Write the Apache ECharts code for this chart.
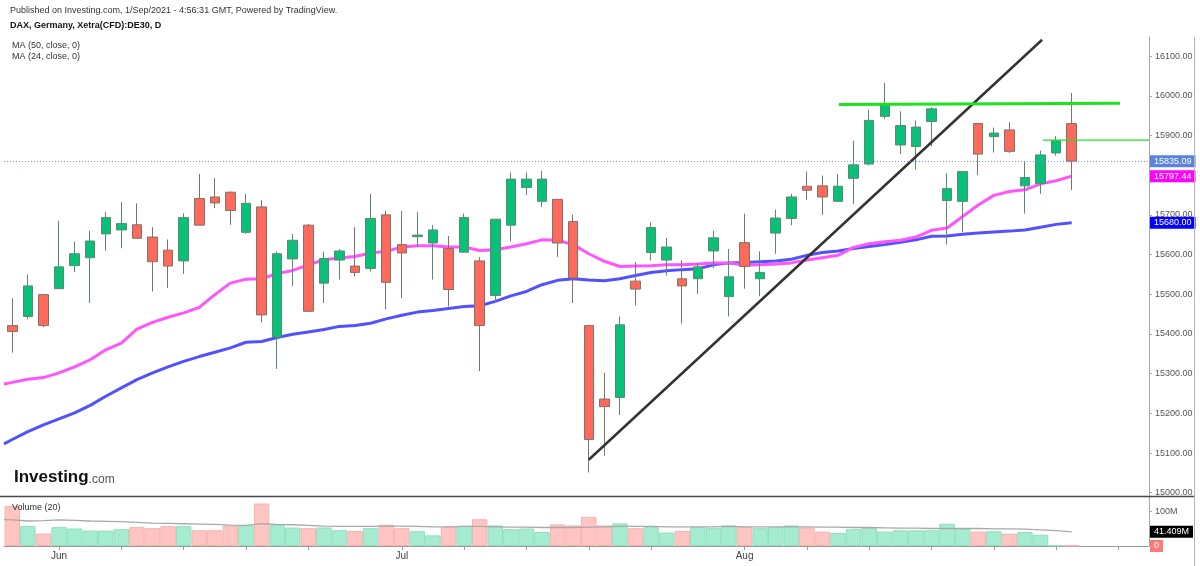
<!DOCTYPE html>
<html><head><meta charset="utf-8">
<script src="https://cdn.jsdelivr.net/npm/echarts@6/dist/echarts.min.js"></script>
<style>html,body{margin:0;padding:0;background:#fff}#c{width:1200px;height:566px}</style>
</head><body><div id="c"></div>
<script>
// ---- data ----
const dates = ['2021-05-27','2021-05-28','2021-05-31',
 '2021-06-01','2021-06-02','2021-06-03','2021-06-04','2021-06-07','2021-06-08','2021-06-09','2021-06-10','2021-06-11',
 '2021-06-14','2021-06-15','2021-06-16','2021-06-17','2021-06-18','2021-06-21','2021-06-22','2021-06-23','2021-06-24','2021-06-25',
 '2021-06-28','2021-06-29','2021-06-30',
 '2021-07-01','2021-07-02','2021-07-05','2021-07-06','2021-07-07','2021-07-08','2021-07-09','2021-07-12','2021-07-13','2021-07-14',
 '2021-07-15','2021-07-16','2021-07-19','2021-07-20','2021-07-21','2021-07-22','2021-07-23','2021-07-26','2021-07-27','2021-07-28',
 '2021-07-29','2021-07-30',
 '2021-08-02','2021-08-03','2021-08-04','2021-08-05','2021-08-06','2021-08-09','2021-08-10','2021-08-11','2021-08-12','2021-08-13',
 '2021-08-16','2021-08-17','2021-08-18','2021-08-19','2021-08-20','2021-08-23','2021-08-24','2021-08-25','2021-08-26','2021-08-27',
 '2021-08-30','2021-08-31'];
const openP = [15421,15444,15499,15514,15572,15592,15652,15662,15675,15644,
 15611,15584,15741,15745,15757,15656,15720,15392,15589,15674,
 15528,15586,15571,15565,15700,15625,15645,15629,15615,15606,
 15584,15497,15674,15769,15734,15739,15683,15421,15236,15240,
 15533,15605,15586,15539,15539,15609,15494,15630,15539,15654,
 15691,15772,15773,15734,15792,15828,15948,15876,15872,15935,
 15736,15734,15930,15897,15914,15773,15779,15856,15930];
const closeP = [15406,15521,15421,15569,15602,15634,15693,15678,15641,15582,
 15571,15693,15674,15730,15711,15729,15448,15602,15636,15457,
 15590,15609,15555,15691,15530,15604,15649,15662,15512,15693,
 15421,15689,15790,15790,15790,15629,15541,15134,15217,15423,
 15513,15668,15619,15521,15569,15642,15544,15570,15555,15692,
 15745,15762,15745,15772,15826,15938,15977,15925,15921,15967,
 15766,15809,15853,15906,15860,15794,15851,15887,15835.09];
const lowP = [15353,15437,15417,15513,15556,15478,15610,15616,15639,15507,
 15516,15551,15674,15717,15675,15652,15429,15312,15520,15456,
 15478,15537,15545,15557,15462,15490,15618,15537,15469,15605,
 15306,15482,15633,15750,15720,15594,15478,15051,15093,15196,
 15472,15585,15547,15426,15500,15566,15444,15514,15495,15602,
 15674,15738,15700,15733,15727,15824,15941,15853,15814,15872,
 15625,15657,15800,15857,15856,15703,15753,15849,15762];
const highP = [15490,15550,15501,15685,15633,15660,15707,15732,15729,15669,
 15638,15704,15803,15793,15759,15753,15737,15607,15652,15677,
 15607,15614,15669,15753,15710,15710,15707,15674,15647,15703,
 15593,15690,15807,15807,15811,15739,15700,15423,15302,15444,
 15581,15681,15642,15586,15579,15660,15614,15703,15608,15713,
 15753,15809,15799,15803,15887,15965,16032,15961,15938,15971,
 15805,15809,15931,15920,15933,15836,15862,15898,16007];
const ma50 = [15134,15154,15171,15186,15201,15220,15243,15264,15285,15302,
 15317,15331,15343,15354,15365,15379,15381,15391,15399,15405,
 15411,15419,15421,15427,15438,15447,15455,15459,15464,15469,
 15471,15482,15496,15507,15524,15535,15539,15536,15534,15539,
 15547,15555,15559,15562,15564,15574,15579,15580,15582,15584,
 15588,15598,15605,15609,15615,15620,15625,15631,15637,15646,
 15647,15651,15654,15657,15659,15662,15669,15676,15680];
const ma24 = [15278,15286,15290,15302,15317,15335,15360,15377,15412,15429,
 15442,15453,15467,15499,15528,15538,15539,15552,15560,15574,
 15587,15591,15595,15604,15608,15619,15622,15622,15619,15619,
 15610,15612,15619,15627,15637,15636,15625,15602,15583,15570,
 15571,15572,15574,15574,15576,15579,15579,15573,15574,15576,
 15579,15586,15592,15598,15618,15627,15632,15636,15644,15661,
 15667,15696,15725,15749,15759,15763,15778,15786,15797.44];
// values of the averages at the left edge of the plot (before the first candle)
const ma50Lead = 15123, ma24Lead = 15274, volMALead = 77;
// volume in millions
const volumeM = [117,58,36,55,51,45,45,49,55,52,58,58,46,46,59,60,124,61,54,52,54,46,44,52,62,
 52,43,31,55,59,78,60,49,51,41,63,60,85,60,66,52,55,39,44,55,52,60,55,52,
 55,60,54,42,38,49,53,42,46,46,46,65,51,42,43,36,41,33,1.5,1];
const volMA = [76,73,74,76,75,73,72,71,69,67,66,65,64,63,61,60,65,63,62,60,58,57,57,57,58,
 58,57,56,56,57,57,56,55,55,54,54,54,55,56,57,57,57,56,56,56,56,57,56,56,
 56,56,56,55,55,54,54,53,52,52,51,51,51,51,50,50,49,47,45,41.409];
const volTagText = '0';
// drawn lines (bar index, price)
const trendLine = [[37,15083],[66.1,16141]];
const resistLine = [[53.06,15978],[71.1,15981]];
const shortLine = [[66.15,15888],[72.96,15888]];
// axis ticks and labels
const priceTicks = [15000,15100,15200,15300,15400,15500,15600,15700,15800,15900,16000,16100];
const volumeTicks = [100];
const monthLabels = ['Jun','Jul','Aug'];
const monthIdx = [3,25,47];
const tickIdx = [3,7,11,15,19,25,29,33,37,41,47,51,55,59,63,67,71];

// ---- chart ----
const FONT = '"Liberation Sans", Arial, sans-serif';
const X_MIN = -0.533, X_MAX = 72.96;
const idx = dates.map((d,i)=>i);
const up = i => closeP[i] >= openP[i];
const chart = echarts.init(document.getElementById('c'), null, {renderer:'canvas'});

function tag(value, text, bg, color) {
  return {
    symbol:['none','none'], silent:true, animation:false,
    lineStyle:{color:'rgba(0,0,0,0)', width:1},
    label:{show:true, position:'end', distance:1, formatter:()=>text, backgroundColor:bg, color:color||'#fff',
      fontSize:9, fontFamily:FONT, padding:[2,4,1,4]},
    data:[{yAxis:value}]
  };
}
const lastClose = closeP[closeP.length-1];

const option = {
  animation:false,
  backgroundColor:'#fff',
  textStyle:{fontFamily:FONT},
  grid:[
    {left:4, right:51, top:37, bottom:69.3},
    {left:4, right:51, top:497, bottom:20}
  ],
  xAxis:[
    {type:'value', gridIndex:0, min:X_MIN, max:X_MAX, show:false},
    {type:'value', gridIndex:1, min:X_MIN, max:X_MAX,
     axisLine:{show:true, onZero:false, lineStyle:{color:'#9c9c9c', width:1}},
     axisTick:{show:true, customValues:tickIdx, length:4, lineStyle:{color:'#9c9c9c'}},
     axisLabel:{customValues:monthIdx, formatter:v=>monthLabels[monthIdx.indexOf(Math.round(v))]||'',
       fontSize:10, color:'#444', margin:5, fontFamily:FONT},
     splitLine:{show:false}}
  ],
  yAxis:[
    {type:'value', gridIndex:0, position:'right', min:14990, max:16148,
     axisLine:{show:true, onZero:false, lineStyle:{color:'#a6a6a6', width:1}},
     axisTick:{show:true, customValues:priceTicks, length:3, lineStyle:{color:'#a6a6a6'}},
     axisLabel:{customValues:priceTicks, formatter:v=>Number(v).toFixed(2), fontSize:9, color:'#555', margin:6, fontFamily:FONT},
     splitLine:{show:false}},
    {type:'value', gridIndex:1, position:'right', min:0, max:143,
     axisLine:{show:true, onZero:false, lineStyle:{color:'#a6a6a6', width:1}},
     axisTick:{show:true, customValues:volumeTicks, length:3, lineStyle:{color:'#a6a6a6'}},
     axisLabel:{customValues:volumeTicks, formatter:v=>v+'M', fontSize:9, color:'#555', margin:6, fontFamily:FONT},
     splitLine:{show:false}}
  ],
  series:[
    {type:'line', name:'MA50', xAxisIndex:0, yAxisIndex:0, showSymbol:false, silent:true,
     data:[[X_MIN, ma50Lead]].concat(idx.map(i=>[i, ma50[i]])),
     lineStyle:{color:'#5151ff', width:3}, z:2,
     markLine:tag(ma50[ma50.length-1], ma50[ma50.length-1].toFixed(2), '#0000ff')},
    {type:'line', name:'MA24', xAxisIndex:0, yAxisIndex:0, showSymbol:false, silent:true,
     data:[[X_MIN, ma24Lead]].concat(idx.map(i=>[i, ma24[i]])),
     lineStyle:{color:'#ff55ff', width:3}, z:2,
     markLine:tag(ma24[ma24.length-1], ma24[ma24.length-1].toFixed(2), '#ff00ff')},
    {type:'candlestick', xAxisIndex:0, yAxisIndex:0, barWidth:10, z:3,
     dimensions:['x','open','close','lowest','highest'],
     encode:{x:0, y:[1,2,3,4]},
     data:idx.map(i=>[i, openP[i], closeP[i], lowP[i], highP[i]]),
     itemStyle:{color:'#08c078', color0:'#fd6a5c', borderColor:'#5c8a70', borderColor0:'#82716b', borderWidth:1},
     markLine:{symbol:['none','none'], silent:true,
       lineStyle:{type:[1,2], color:'#7394e6', width:1},
       label:{show:true, position:'end', distance:1, formatter:()=>lastClose.toFixed(2), backgroundColor:'#5b82de', color:'#fff',
         fontSize:9, fontFamily:FONT, padding:[2,4,1,4]},
       data:[{yAxis:lastClose}]}},
    {type:'line', xAxisIndex:0, yAxisIndex:0, showSymbol:false, silent:true, data:trendLine,
     lineStyle:{color:'#333', width:2.5}, z:4},
    {type:'line', xAxisIndex:0, yAxisIndex:0, showSymbol:false, silent:true, data:resistLine,
     lineStyle:{color:'#1ee21e', width:3}, z:4},
    {type:'line', xAxisIndex:0, yAxisIndex:0, showSymbol:false, silent:true, data:shortLine,
     lineStyle:{color:'#1ee21e', width:1.3}, z:4},
    {type:'bar', xAxisIndex:1, yAxisIndex:1, barWidth:15.4, silent:true,
     data:idx.map(i=>({value:[i, volumeM[i]], itemStyle:{
       color: up(i) ? '#a6ecd0' : '#ffc5c3',
       borderColor: up(i) ? '#8ee0bd' : '#f9b1ad', borderWidth:1}})),
     markLine:tag(0, volTagText, '#ff7a75')},
    {type:'line', xAxisIndex:1, yAxisIndex:1, showSymbol:false, silent:true,
     data:[[X_MIN, volMALead]].concat(idx.map(i=>[i, volMA[i]])),
     lineStyle:{color:'#a9a9a9', width:1.3}, z:3,
     markLine:tag(volMA[volMA.length-1], volMA[volMA.length-1].toFixed(3)+'M', '#000')}
  ],
  graphic:[
    {type:'text', left:10, top:6, z:100, style:{text:'Published on Investing.com, 1/Sep/2021 - 4:56:31 GMT, Powered by TradingView.', fill:'#333', font:'9px '+FONT}},
    {type:'text', left:10, top:21, z:100, style:{text:'DAX, Germany, Xetra(CFD):DE30, D', fill:'#111', font:'bold 9px '+FONT}},
    {type:'text', left:12, top:41, z:100, style:{text:'MA (50, close, 0)', fill:'#333', font:'9px '+FONT}},
    {type:'text', left:12, top:52, z:100, style:{text:'MA (24, close, 0)', fill:'#333', font:'9px '+FONT}},
    {type:'text', left:12, top:503, z:100, style:{text:'Volume (20)', fill:'#333', font:'9px '+FONT}},
    {type:'text', left:14, top:469, z:100, style:{text:'{a|Investing}{b|.com}', rich:{
       a:{fill:'#111', font:'bold 17px '+FONT},
       b:{fill:'#555', font:'12px '+FONT, padding:[4,0,0,0]}}}},
    {type:'line', shape:{x1:0, y1:496.5, x2:1195, y2:496.5}, style:{stroke:'#4a4a4a', lineWidth:1.6}, z:100},
    {type:'line', shape:{x1:1194.5, y1:37, x2:1194.5, y2:566}, style:{stroke:'#b4b4b4', lineWidth:1}, z:100}
  ]
};
chart.setOption(option);
</script>
</body></html>
